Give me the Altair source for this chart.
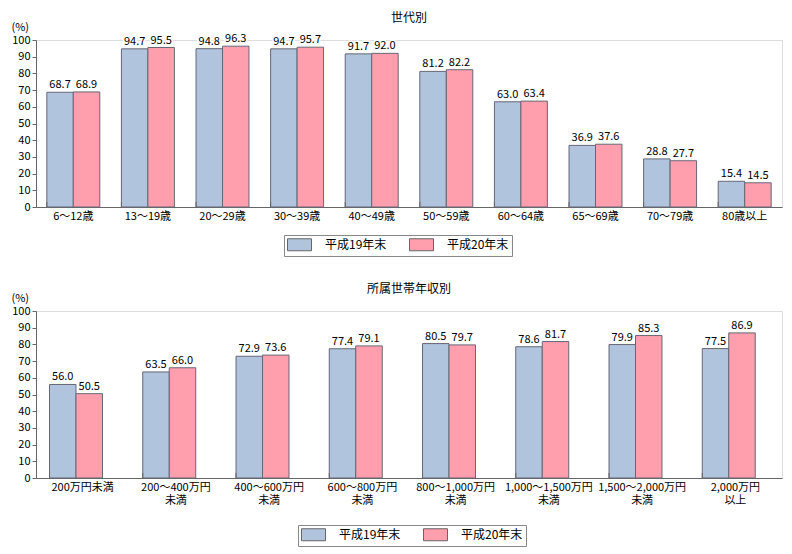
import altair as alt
import pandas as pd

series = ["平成19年末", "平成20年末"]
colors = ["#b0c4de", "#ff9fae"]

ages = ["6～12歳", "13～19歳", "20～29歳", "30～39歳", "40～49歳",
        "50～59歳", "60～64歳", "65～69歳", "70～79歳", "80歳以上"]
h19_age = [68.7, 94.7, 94.8, 94.7, 91.7, 81.2, 63.0, 36.9, 28.8, 15.4]
h20_age = [68.9, 95.5, 96.3, 95.7, 92.0, 82.2, 63.4, 37.6, 27.7, 14.5]

incomes = ["200万円未満", "200～400万円未満", "400～600万円未満", "600～800万円未満",
           "800～1,000万円未満", "1,000～1,500万円未満", "1,500～2,000万円未満", "2,000万円以上"]
h19_inc = [56.0, 63.5, 72.9, 77.4, 80.5, 78.6, 79.9, 77.5]
h20_inc = [50.5, 66.0, 73.6, 79.1, 79.7, 81.7, 85.3, 86.9]
y_ticks = [0, 10, 20, 30, 40, 50, 60, 70, 80, 90, 100]

FONT = "Noto Sans CJK JP"
W, H = 746, 167


def make_df(cats, a, b):
    rows = []
    for c, v1, v2 in zip(cats, a, b):
        rows.append({"cat": c, "series": series[0], "value": v1})
        rows.append({"cat": c, "series": series[1], "value": v2})
    return pd.DataFrame(rows)


def panel(cats, a, b, title, lx, ly, label_expr=None):
    df = make_df(cats, a, b)
    xaxis = dict(title=None, labelAngle=0, ticks=False, domainColor="#666666",
                 labelFontSize=11, labelPadding=3, labelColor="black", labelFont=FONT,
                 labelLineHeight=13, labelOverlap=False)
    if label_expr:
        xaxis["labelExpr"] = label_expr
    x = alt.X("cat:N", sort=cats, axis=alt.Axis(**xaxis),
              scale=alt.Scale(paddingInner=0.29, paddingOuter=0.145))
    xo = alt.XOffset("series:N", sort=series, scale=alt.Scale(paddingInner=0, paddingOuter=0))
    y = alt.Y("value:Q", scale=alt.Scale(domain=[0, 100]),
              axis=alt.Axis(values=y_ticks, title="(%)", titleAngle=0,
                            titleX=-25, titleY=-8, titleAlign="left", titleBaseline="bottom",
                            grid=False, tickSize=4, domainColor="#666666", tickColor="#666666",
                            labelFontSize=11, labelColor="black", labelFont=FONT,
                            labelOverlap=False, labelBound=False,
                            titleFont=FONT, titleFontSize=11, titleFontWeight="normal",
                            minExtent=27, maxExtent=27))
    color = alt.Color("series:N", sort=series,
                      scale=alt.Scale(domain=series, range=colors),
                      legend=alt.Legend(title=None, orient="none", legendX=lx, legendY=ly,
                                        direction="horizontal", strokeColor="#888888",
                                        padding=3, symbolType="M-2,-1L2,-1L2,1L-2,1Z",
                                        symbolSize=144, symbolStrokeColor="#666666",
                                        symbolStrokeWidth=1, symbolOffset=6, labelOffset=19,
                                        labelFontSize=12, labelFont=FONT, labelColor="black",
                                        columnPadding=20))
    base = alt.Chart(df)
    bars = base.mark_bar(stroke="#666677", strokeWidth=1).encode(x=x, xOffset=xo, y=y, color=color)
    halo = base.mark_text(baseline="bottom", dy=-2, fontSize=11, font=FONT,
                          stroke="white", strokeWidth=3, color="white").encode(
        x=x, xOffset=xo, y=y, text=alt.Text("value:Q", format=".1f"))
    txt = base.mark_text(baseline="bottom", dy=-2, fontSize=11, font=FONT, color="black").encode(
        x=x, xOffset=xo, y=y, text=alt.Text("value:Q", format=".1f"))
    ticks = alt.Chart(pd.DataFrame({"cat": cats})).mark_rule(color="#666666").encode(
        x=alt.X("cat:N", sort=cats, bandPosition=0), y=alt.value(H), y2=alt.value(H - 5))
    return alt.layer(bars, ticks, halo, txt).properties(
        width=W, height=H,
        title=alt.TitleParams(title, fontSize=12, fontWeight="normal", font=FONT,
                              anchor="middle", color="black", offset=-4))


top = panel(ages, h19_age, h20_age, "世代別", 248, 195)
bottom = panel(incomes, h19_inc, h20_inc, "所属世帯年収別", 262, 214,
               label_expr="datum.label == '200万円未満' ? datum.label : "
                          "split(replace(datum.label, '万円', '万円|'), '|')")

chart = alt.vconcat(top, bottom, spacing=25).resolve_scale(color="independent").resolve_legend(
    color="independent").properties(padding={"left": 0, "top": 3, "right": 0, "bottom": 0}
).configure_view(stroke="#666666").configure(font=FONT)

chart.save("out.html", embed_options={"renderer": "svg", "actions": False})
